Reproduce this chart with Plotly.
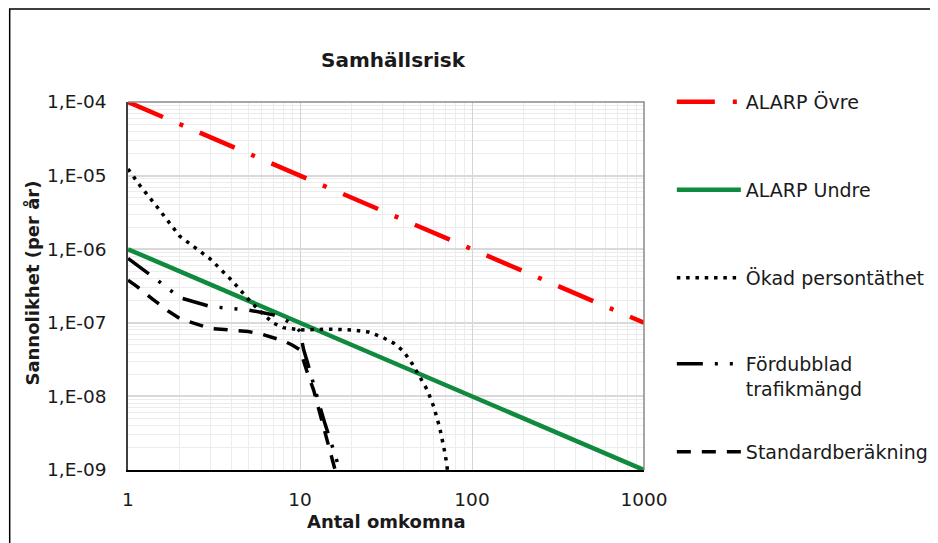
import plotly.graph_objects as go

# ---------------- data ----------------
alarp_x = [1, 1000]
alarp_upper_y = [1e-4, 1e-7]
alarp_lower_y = [1e-6, 1e-9]

okad_x = [1, 1.17, 1.47, 2, 3, 4, 5, 6, 7, 8, 9, 10, 15, 20, 25, 30, 35, 40, 45, 50, 55, 60, 65, 70, 72]
okad_y = [1.23e-5, 7.4e-6, 3.8e-6, 1.5e-6, 7.4e-7, 3.8e-7, 2.1e-7, 1.36e-7, 9.9e-8, 8.6e-8, 8.3e-8,
          8.0e-8, 8.2e-8, 8.0e-8, 7.5e-8, 6.4e-8, 5.3e-8, 4.1e-8, 2.76e-8, 1.78e-8, 1.22e-8,
          7.2e-9, 3.7e-9, 1.6e-9, 1.0e-9]

ford_x = [1, 1.32, 1.55, 2, 3, 4, 5, 6, 7, 8, 9, 10, 10.5, 11, 12, 13, 14, 15, 16, 17]
ford_y = [7.5e-7, 4.7e-7, 3.5e-7, 2.2e-7, 1.67e-7, 1.56e-7, 1.49e-7, 1.38e-7, 1.28e-7, 1.13e-7,
          9.6e-8, 7.7e-8, 4.3e-8, 3.0e-8, 1.4e-8, 7.5e-9, 4.2e-9, 2.6e-9, 1.6e-9, 1.0e-9]

std_x = [1, 1.13, 1.39, 1.73, 2, 3, 4, 5, 6, 7, 8, 9, 10, 11, 12, 13, 14, 15, 16]
std_y = [3.8e-7, 3.1e-7, 2.1e-7, 1.42e-7, 1.14e-7, 8.4e-8, 7.95e-8, 7.6e-8, 7.0e-8, 6.3e-8,
         5.7e-8, 5.0e-8, 4.3e-8, 2.15e-8, 1.22e-8, 6.1e-9, 3.3e-9, 1.76e-9, 1.0e-9]

x_tickvals = [1, 10, 100, 1000]
x_ticktext = ["1", "10", "100", "1000"]
y_tickvals = [1e-9, 1e-8, 1e-7, 1e-6, 1e-5, 1e-4]
y_ticktext = ["1,E-09", "1,E-08", "1,E-07", "1,E-06", "1,E-05", "1,E-04"]

series_names = ["ALARP Övre", "ALARP Undre", "Ökad persontäthet", "Fördubblad<br>trafikmängd", "Standardberäkning"]

# ---------------- geometry ----------------
W, H = 938, 543
OFF = 8  # page body margin of the browser
L, R, T, B = 128, 647, 102, 470  # plot area in screen px


def px_x(px):
    return (px - L) / (R - L)


def px_y(py):
    return (B - py) / (B - T)


FONT = "DejaVu Sans"
TXT = "#1a1a1a"

fig = go.Figure()

fig.add_trace(go.Scatter(x=alarp_x, y=alarp_upper_y, mode="lines", name=series_names[0],
                         line=dict(color="#ff0000", width=4.5, dash="38px,18px,4px,18px"),
                         legend="legend"))
fig.add_trace(go.Scatter(x=alarp_x, y=alarp_lower_y, mode="lines", name=series_names[1],
                         line=dict(color="#108a3e", width=4.5),
                         legend="legend2"))
fig.add_trace(go.Scatter(x=okad_x, y=okad_y, mode="lines", name=series_names[2],
                         line=dict(color="#000000", width=3.5, dash="3.5px,5.8px"),
                         legend="legend3"))
fig.add_trace(go.Scatter(x=ford_x, y=ford_y, mode="lines", name=series_names[3],
                         line=dict(color="#000000", width=3.5, dash="26px,12px,3px,12px,3px,12px"),
                         legend="legend4"))
fig.add_trace(go.Scatter(x=std_x, y=std_y, mode="lines", name=series_names[4],
                         line=dict(color="#000000", width=3.5, dash="14px,11px"),
                         legend="legend5"))

leg_common = dict(font=dict(family=FONT, size=19, color=TXT), bgcolor="rgba(0,0,0,0)",
                  borderwidth=0, itemwidth=64, xanchor="left", x=px_x(675))

minor_x = [k * 10 ** e for e in range(0, 3) for k in range(2, 10)]
minor_y = [k * 10.0 ** e for e in range(-9, -4) for k in range(2, 10)]

fig.update_layout(
    width=W, height=H, autosize=False,
    margin=dict(l=L - OFF, r=W - (R - OFF), t=T - OFF, b=H - (B - OFF), pad=0),
    paper_bgcolor="white", plot_bgcolor="white",
    font=dict(family=FONT, color=TXT),
    title=dict(text="<b>Samhällsrisk</b>", font=dict(family=FONT, size=20, color=TXT),
               xref="container", yref="container", x=(393 - OFF) / W, y=1 - (60 - OFF) / H,
               xanchor="center", yanchor="middle"),
    showlegend=True,
    legend=dict(**leg_common, y=px_y(102), yanchor="middle"),
    legend2=dict(**leg_common, y=px_y(190), yanchor="middle"),
    legend3=dict(**leg_common, y=px_y(278), yanchor="middle"),
    legend4=dict(**leg_common, y=px_y(345), yanchor="top", valign="top"),
    legend5=dict(**leg_common, y=px_y(452), yanchor="middle"),
    xaxis=dict(type="log", range=[0, 3], tickvals=x_tickvals, ticktext=x_ticktext,
               tickfont=dict(family=FONT, size=18.5, color=TXT), ticks="",
               ticklabelstandoff=12,
               showgrid=True, gridcolor="#d4d4d4", gridwidth=1,
               minor=dict(tickvals=minor_x, showgrid=True, gridcolor="#ececec", gridwidth=1, ticks=""),
               showline=True, linecolor="#000000", linewidth=1.5, zeroline=False),
    yaxis=dict(type="log", range=[-9, -4], tickvals=y_tickvals, ticktext=y_ticktext,
               tickfont=dict(family=FONT, size=18.5, color=TXT), ticks="",
               ticklabelstandoff=16,
               showgrid=True, gridcolor="#d9d9d9", gridwidth=1.5,
               minor=dict(tickvals=minor_y, showgrid=True, gridcolor="#ececec", gridwidth=1, ticks=""),
               showline=True, linecolor="#404040", linewidth=1.5, zeroline=False),
    annotations=[
        dict(text="<b>Antal omkomna</b>", xref="paper", yref="paper", x=0.5, y=px_y(521),
             xanchor="center", yanchor="middle", showarrow=False,
             font=dict(family=FONT, size=18, color=TXT)),
        dict(text="<b>Sannolikhet (per år)</b>", xref="paper", yref="paper", x=px_x(31), y=px_y(283),
             xanchor="center", yanchor="middle", showarrow=False, textangle=-90,
             font=dict(family=FONT, size=18, color=TXT)),
    ],
    shapes=[
        dict(type="path", xref="paper", yref="paper", path="M 0,1 L 1,1 L 1,0",
             line=dict(color="#8a8a8a", width=1.5), layer="above"),
        dict(type="rect", xref="paper", yref="paper", x0=px_x(9), x1=px_x(960), y0=px_y(560), y1=px_y(9),
             line=dict(color="#000000", width=1.5), fillcolor="rgba(0,0,0,0)", layer="above"),
    ],
)

fig.write_html("out.html")
